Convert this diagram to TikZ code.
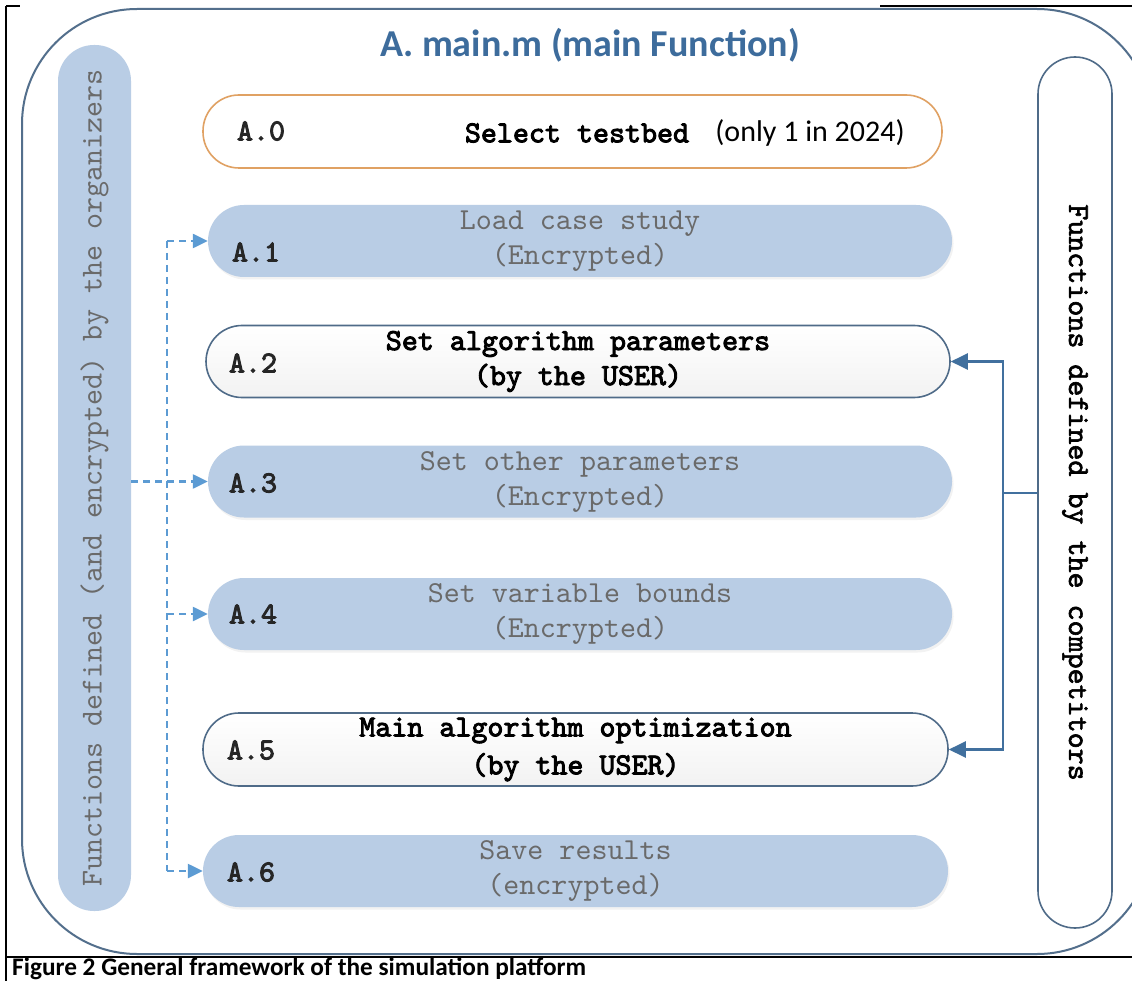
\documentclass[tikz,border=0pt]{standalone}
\usepackage{fontspec}
\setmainfont{Carlito}
\newfontfamily\courr{lmmono10-regular}[Extension=.otf]
\newfontfamily\courb{lmmono10-regular}[Extension=.otf, FakeBold=3]
\newfontfamily\courm{lmmono10-regular}[Extension=.otf, FakeBold=2]
\usetikzlibrary{arrows.meta,shadows}
\definecolor{pillblue}{HTML}{B9CDE5}
\definecolor{greytext}{HTML}{6A6A6A}
\definecolor{framecol}{HTML}{536F8C}
\definecolor{outlinecol}{HTML}{4F6B88}
\definecolor{orangecol}{HTML}{E0A163}
\definecolor{titleblue}{HTML}{3D6C9C}
\definecolor{dashblue}{HTML}{5C9BD3}
\definecolor{solidblue}{HTML}{41709E}
\tikzset{
  mono/.style={font=\courr\fontsize{30.5}{35}\selectfont},
  monob/.style={font=\courb\fontsize{30.5}{35}\selectfont},
  boxbase/.style={rounded corners=36pt, minimum height=72pt, minimum width=744pt, align=center, inner sep=0pt, mono},
  bluebox/.style={boxbase, fill=pillblue, text=greytext, drop shadow={opacity=0.10, shadow xshift=1.5pt, shadow yshift=-2.5pt, fill=gray}},
  userbox/.style={boxbase, draw=outlinecol, line width=1.6pt, top color=white, bottom color=gray!10, text=black, monob},
  lab/.style={monob, text=black!85, inner sep=0pt},
  dasharrow/.style={draw=dashblue, line width=2.4pt, dash pattern=on 7pt off 5pt},
  tipd/.style={-{Triangle[length=15pt,width=14pt]}},
  solidarrow/.style={draw=solidblue, line width=2.4pt},
  tips/.style={-{Triangle[length=17pt,width=16pt]}},
}
\begin{document}
\begin{tikzpicture}[x=1pt,y=-1pt]
\useasboundingbox (0,0) rectangle (1132,981);
\fill[white] (0,0) rectangle (1132,981);
% black page frame lines
\draw[black, line width=2pt] (6,6) -- (20,6);
\draw[black, line width=2pt] (880,6) -- (1132,6);
\draw[black, line width=2pt] (6,6) -- (6,981);
\draw[black, line width=2pt] (6,957) -- (1132,957);
% outer rounded frame (clipped at right)
\begin{scope}
\clip (0,0) rectangle (1132,981);
\draw[framecol, line width=2pt, rounded corners=115pt] (22,9) rectangle (1152,954);
\end{scope}
% title
\node[font=\bfseries\fontsize{38}{42}\selectfont, text=titleblue] (title) at (590,45) {A. main.m (main Function)};
% side pills
\node[fill=pillblue, rounded corners=36pt, minimum width=866pt, minimum height=73pt, inner sep=0pt, rotate=90, text=greytext, mono] (lp) at (94.5,478) {Functions defined (and encrypted) by the organizers};
\node[draw=outlinecol, line width=1.6pt, fill=white, rounded corners=37pt, minimum width=871pt, minimum height=74pt, inner sep=0pt, rotate=-90, text=black, font=\courm\fontsize{30.5}{35}\selectfont] (rp) at (1075,492.5) {Functions defined by the competitors};
% A.0
\node[boxbase, draw=orangecol, line width=1.6pt, fill=white, minimum width=739pt, minimum height=73pt] (a0) at (572.5,131.5) {};
\node[monob, inner sep=0pt] (a0t) at (577,133) {Select testbed};
\node[font=\fontsize{30}{34}\selectfont, inner sep=0pt] (a0n) at (810,133) {(only 1 in 2024)};
\node[lab] (l0) at (261,131) {A.0};
% boxes
\node[bluebox] (a1) at (580,241) {Load case study\\(Encrypted)};
\node[userbox] (a2) at (578,361.5) {Set algorithm parameters\\(by the USER)};
\node[bluebox] (a3) at (580,481.5) {Set other parameters\\(Encrypted)};
\node[bluebox] (a4) at (580,614) {Set variable bounds\\(Encrypted)};
\node[userbox, minimum width=745pt, minimum height=73pt] (a5) at (575.5,749.5) {Main algorithm optimization\\[3pt](by the USER)};
\node[bluebox, minimum width=745pt] (a6) at (575.5,871) {Save results\\(encrypted)};
% labels
\node[lab] (l1) at (256,252) {A.1};
\node[lab] (l2) at (253,363) {A.2};
\node[lab] (l3) at (253,483) {A.3};
\node[lab] (l4) at (253,614) {A.4};
\node[lab] (l5) at (251,750) {A.5};
\node[lab] (l6) at (251,872) {A.6};
% dashed connectors (organizers)
\coordinate (dtop) at (167,241);
\coordinate (dbot) at (167,871);
\draw[dasharrow] (dtop) -- (dbot);
\draw[dasharrow, tipd] (dtop) -- (a1.west);
\draw[dasharrow, tipd] (lp.south |- a3.west) -- (a3.west);
\draw[dasharrow, tipd] (dtop |- a4.west) -- (a4.west);
\draw[dasharrow, tipd] (dbot) -- (a6.west);
% solid connectors (competitors)
\coordinate (rj) at (1003,493);
\draw[solidarrow] (rp.south |- rj) -- (rj);
\draw[solidarrow, tips] (rj) |- (a2.east);
\draw[solidarrow, tips] (rj) |- (a5.east);
% caption
\node[anchor=west, font=\bfseries\fontsize{25.3}{28}\selectfont, inner sep=0pt] (cap) at (12,969) {Figure 2 General framework of the simulation platform};
\end{tikzpicture}
\end{document}
